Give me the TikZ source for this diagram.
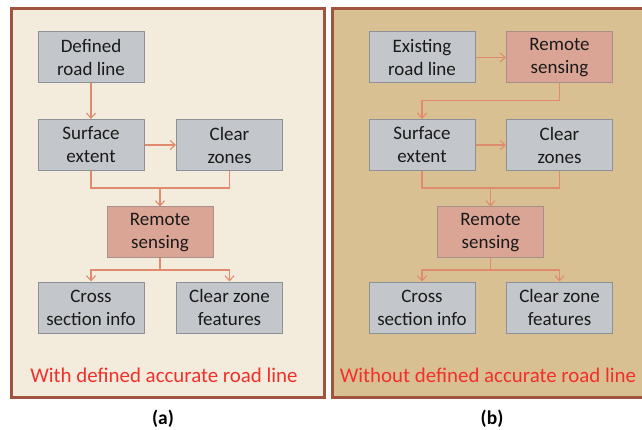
\documentclass[tikz,border=0pt]{standalone}
\usepackage{fontspec}
\setmainfont{Carlito}
\usetikzlibrary{arrows.meta}
\definecolor{panelA}{HTML}{F3EBDC}
\definecolor{panelB}{HTML}{D9C093}
\definecolor{panelEdge}{HTML}{A2533F}
\definecolor{boxGray}{HTML}{C3C6CA}
\definecolor{boxEdge}{HTML}{8C9198}
\definecolor{boxSalmon}{HTML}{DBA596}
\definecolor{salmonEdge}{HTML}{A89088}
\definecolor{link}{HTML}{E08A6E}
\definecolor{capRed}{HTML}{F2302B}
\definecolor{txt}{HTML}{1A1A1A}
\tikzset{
  blk/.style={draw=boxEdge, line width=1pt, fill=boxGray, minimum width=106pt, minimum height=51pt,
    align=center, inner sep=0pt, text=txt, font=\fontsize{19}{23}\selectfont},
  rs/.style={blk, fill=boxSalmon, draw=salmonEdge},
  lnk/.style={draw=link, line width=1.1pt},
  arr/.style={lnk, -{Straight Barb[length=5pt,width=9pt,line width=1.1pt]}},
  panel/.style={draw=panelEdge, line width=3pt},
  captext/.style={text=capRed, font=\fontsize{20.9}{24}\selectfont, inner sep=0pt},
  sublabel/.style={font=\bfseries\fontsize{19.5}{22}\selectfont, inner sep=0pt, text=black}
}
\begin{document}
\begin{tikzpicture}[x=1pt,y=-1pt]
\useasboundingbox (0,0) rectangle (642,430);
\fill[white] (0,0) rectangle (642,430);
\begin{scope}
\clip (0,0) rectangle (642,430);
\draw[panel, fill=panelA] (11,8.5) rectangle (324.5,397);
\draw[panel, fill=panelB] (332,8.5) rectangle (652,397);
\end{scope}

% panel (a)
\node[blk] (a1) at (91,57.5) {Defined\\road line};
\node[blk] (a2) at (91,145) {Surface\\extent};
\node[blk] (a3) at (229.5,145) {Clear\\zones};
\node[rs]  (a4) at (160,232.5) {Remote\\sensing};
\node[blk] (a5) at (91,307.5) {Cross\\section info};
\node[blk] (a6) at (229.5,307.5) {Clear zone\\features};
\coordinate (ja) at (160,188);
\coordinate (jb) at (160,270);
\draw[arr] (a1) -- (a2);
\draw[arr] (a2) -- (a3);
\draw[lnk] (a2.south) |- (ja);
\draw[lnk] (a3.south) |- (ja);
\draw[arr] (ja) -- (a4.north);
\draw[lnk] (a4.south) -- (jb);
\draw[arr] (jb) -| (a5.north);
\draw[arr] (jb) -| (a6.north);
\node[captext] (ca) at (164,375) {With defined accurate road line};
\node[sublabel] (la) at (163,419) {(a)};

% panel (b)
\node[blk] (b1) at (422,57.5) {Existing\\road line};
\node[rs]  (b0) at (559.5,57.5) {Remote\\sensing};
\node[blk] (b2) at (422,145) {Surface\\extent};
\node[blk] (b3) at (559.5,145) {Clear\\zones};
\node[rs]  (b4) at (490.5,232.5) {Remote\\sensing};
\node[blk] (b5) at (422,307.5) {Cross\\section info};
\node[blk] (b6) at (559.5,307.5) {Clear zone\\features};
\coordinate (jc) at (490.5,100.5);
\coordinate (jd) at (490.5,188);
\coordinate (je) at (490.5,270);
\draw[arr] (b1) -- (b0);
\draw[lnk] (b0.south) |- (jc);
\draw[arr] (jc) -| (b2.north);
\draw[arr] (b2) -- (b3);
\draw[lnk] (b2.south) |- (jd);
\draw[lnk] (b3.south) |- (jd);
\draw[arr] (jd) -- (b4.north);
\draw[lnk] (b4.south) -- (je);
\draw[arr] (je) -| (b5.north);
\draw[arr] (je) -| (b6.north);
\node[captext] (cb) at (488,375) {Without defined accurate road line};
\node[sublabel] (lb) at (492,419) {(b)};
\end{tikzpicture}
\end{document}
